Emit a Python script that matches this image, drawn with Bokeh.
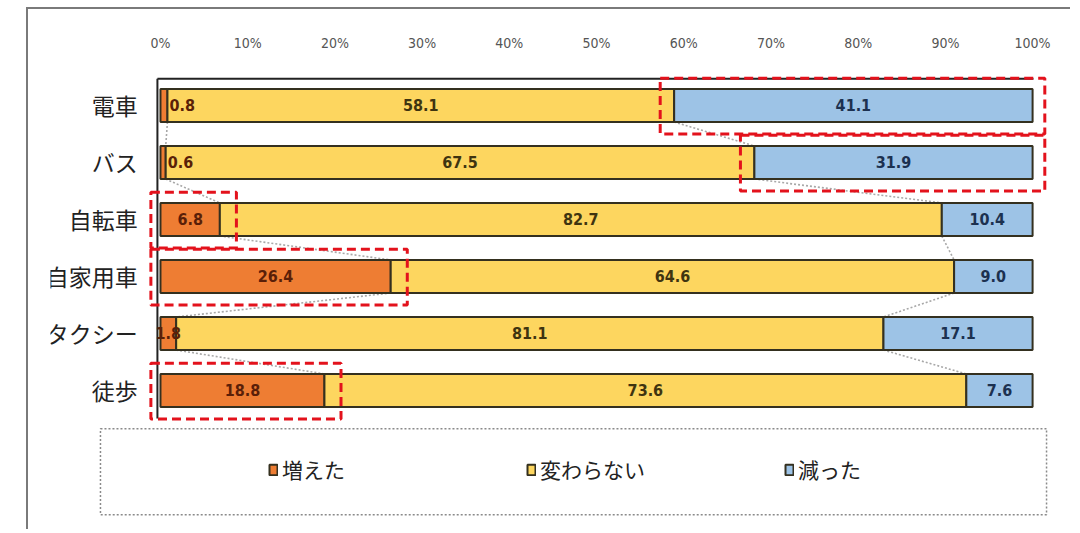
from bokeh.plotting import figure
from bokeh.models import Range1d, FixedTicker, ColumnDataSource, Legend, LegendItem
from bokeh.core.properties import value
from bokeh.embed import file_html
from bokeh.resources import INLINE

# ---------------- data ----------------
categories = ["電車", "バス", "自転車", "自家用車", "タクシー", "徒歩"]
series_names = ["増えた", "変わらない", "減った"]
increased = [0.8, 0.6, 6.8, 26.4, 1.8, 18.8]
unchanged = [58.1, 67.5, 82.7, 64.6, 81.1, 73.6]
decreased = [41.1, 31.9, 10.4, 9.0, 17.1, 7.6]
tick_values = [0, 10, 20, 30, 40, 50, 60, 70, 80, 90, 100]
tick_labels = ["0%", "10%", "20%", "30%", "40%", "50%", "60%", "70%", "80%", "90%", "100%"]
# highlighted segments (category, series)
highlights = [("電車", "減った"), ("バス", "減った"), ("自転車", "増えた"),
              ("自家用車", "増えた"), ("徒歩", "増えた")]

# ---------------- styles ----------------
fills = ["#EE7D33", "#FDD65F", "#9DC3E6"]
label_colors = ["#5a1f08", "#3f3410", "#1c3150"]
NUM_FONT = "DejaVu Sans Condensed, Liberation Sans, sans-serif"
num_font = value(NUM_FONT)
jp_font = value("Noto Sans CJK JP")
BAR_H = 0.58

rows = list(range(len(categories)))
vals = [increased, unchanged, decreased]
totals = [sum(v[i] for v in vals) for i in rows]
norm = [[v[i] * 100.0 / totals[i] for i in rows] for v in vals]
starts, ends = [], []
acc = [0.0] * len(rows)
for s in range(3):
    starts.append(acc[:])
    acc = [acc[i] + norm[s][i] for i in rows]
    ends.append(acc[:])

p = figure(width=1044, height=522,
           x_range=Range1d(-12.61, 103.2), y_range=Range1d(7.316, -0.614),
           min_border_left=22, min_border_right=12, min_border_top=61, min_border_bottom=9,
           output_backend="svg", toolbar_location=None,
           x_axis_location="above", y_axis_location=None)
p.margin = (7, 0, 0, 26)
p.styles = {"border-top": "2px solid #7a7a7a", "border-left": "2px solid #7a7a7a"}
p.outline_line_color = None
p.grid.visible = False
p.background_fill_color = "white"

ax = p.xaxis[0]
ax.ticker = FixedTicker(ticks=tick_values)
ax.major_label_overrides = {v: l for v, l in zip(tick_values, tick_labels)}
ax.axis_line_color = None
ax.major_tick_line_color = None
ax.minor_tick_line_color = None
ax.major_label_standoff = 14
ax.major_label_text_font = NUM_FONT
ax.major_label_text_font_size = "14px"
ax.major_label_text_color = "#555555"

# connector (series) lines
for s in range(2):
    x0 = [ends[s][i] for i in rows[:-1]]
    x1 = [ends[s][i + 1] for i in rows[:-1]]
    y0 = [i + BAR_H / 2 for i in rows[:-1]]
    y1 = [i + 1 - BAR_H / 2 for i in rows[:-1]]
    p.segment(x0=x0, y0=y0, x1=x1, y1=y1, line_color="#a8a8a8",
              line_width=1.6, line_dash="2 2")

# bars
renderers = []
for s in range(3):
    src = ColumnDataSource(dict(y=rows, left=starts[s], right=ends[s]))
    r = p.hbar(y="y", left="left", right="right", height=BAR_H, source=src,
               fill_color=fills[s], line_color="#34301f", line_width=2)
    renderers.append(r)

# plot-area axis lines (left and top)
p.segment(x0=[-0.35, -0.35], y0=[-0.47, -0.47], x1=[-0.35, 100.1], y1=[5.49, -0.47],
          line_color="#222222", line_width=2)

# red dashed highlight boxes
bl, br, bt, bb = [], [], [], []
for cat, ser in highlights:
    i = categories.index(cat)
    s = series_names.index(ser)
    if s == 2:
        bl.append(starts[s][i] - 1.6)
        br.append(101.4)
    else:
        bl.append(-1.1)
        br.append(ends[s][i] + 1.9)
    bt.append(i - 0.48)
    bb.append(i + 0.5)
p.quad(left=bl, right=br, top=bt, bottom=bb, fill_color=None,
       line_color="#E3121C", line_width=3, line_dash="9 5")

# data labels
for s in range(3):
    xs, aligns, texts, offs = [], [], [], []
    for i in rows:
        v = vals[s][i]
        texts.append(f"{v:.1f}")
        if v < 1.0:
            xs.append(ends[s][i]); aligns.append("left"); offs.append(2)
        else:
            xs.append((starts[s][i] + ends[s][i]) / 2); aligns.append("center"); offs.append(0)
    src = ColumnDataSource(dict(x=xs, y=rows, t=texts, a=aligns, o=offs))
    p.text(x="x", y="y", text="t", text_align="a", x_offset="o", source=src,
           text_baseline="middle", text_font=num_font, text_font_size="16px",
           text_font_style="bold", text_color=label_colors[s])

# category labels
p.text(x=[-2.6] * len(rows), y=rows, text=categories, text_align="right",
       text_baseline="middle", text_font=jp_font, text_font_size="23px",
       text_color="#222222")

# legend frame (dotted)
p.quad(left=[-6.88], right=[101.6], top=[5.67], bottom=[7.18], fill_color=None,
       line_color="#8a8a8a", line_width=1.5, line_dash="2 2")

legend = Legend(items=[LegendItem(label=n, renderers=[r]) for n, r in zip(series_names, renderers)],
                orientation="horizontal", location=(218, 38),
                padding=0, margin=0, spacing=4, glyph_width=10, glyph_height=13,
                label_standoff=4, label_width=240, label_height=26,
                label_text_font="Noto Sans CJK JP", label_text_font_size="21px",
                label_text_color="#222222", border_line_color=None,
                background_fill_alpha=0)
p.add_layout(legend)

open("out.html", "w").write(file_html(p, INLINE))
